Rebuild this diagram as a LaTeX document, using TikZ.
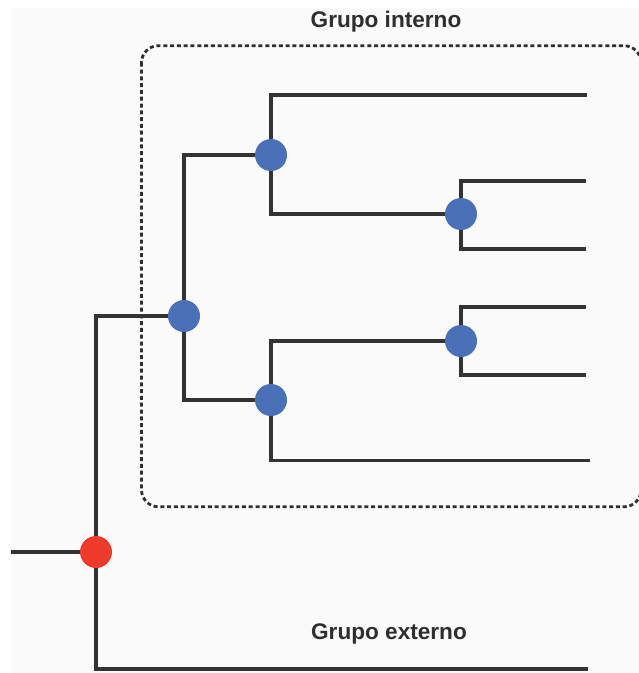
\documentclass[tikz,border=0pt]{standalone}
\usepackage{fontspec}
\setmainfont{Liberation Sans}
\begin{document}
\begin{tikzpicture}[x=1pt,y=-1pt,
  branch/.style={draw=black!80, line width=3.3pt, line join=miter},
  bluenode/.style={circle, fill=bluec, minimum size=32pt, inner sep=0pt},
  rootnode/.style={circle, fill=redc, minimum size=32pt, inner sep=0pt},
  grouplabel/.style={font=\fontsize{22.6}{26}\selectfont\bfseries, text=black!82, anchor=base, inner sep=0pt},
  groupbox/.style={draw=black!82, line width=2.8pt, dash pattern=on 4pt off 2.8pt, rounded corners=17pt}]
\definecolor{bluec}{HTML}{4A70B8}
\definecolor{redc}{HTML}{EE3A2B}
\useasboundingbox (0,0) rectangle (639,673);
\fill[white] (0,0) rectangle (639,673);
\fill[black!2] (10,8) rectangle (639,673);

% group box
\draw[groupbox] (141.5,45.7) rectangle (641,506.8);

% nodes
\node[rootnode] (root) at (96,552) {};
\node[bluenode] (A) at (184,316) {};
\node[bluenode] (B) at (271,155) {};
\node[bluenode] (C) at (271,400) {};
\node[bluenode] (D) at (461,214) {};
\node[bluenode] (E) at (461,341) {};

% leaf ends
\coordinate (in) at (11,552);
\coordinate (l1) at (587,95);
\coordinate (l2) at (586,181);
\coordinate (l3) at (586,249);
\coordinate (l4) at (586,307);
\coordinate (l5) at (586,375);
\coordinate (l6) at (590,460.5);
\coordinate (out) at (588,669);

% branches
\draw[branch] (in) -- (root);
\draw[branch] (root) |- (A);
\draw[branch] (root) |- (out);
\draw[branch] (A) |- (B);
\draw[branch] (A) |- (C);
\draw[branch] (B) |- (l1);
\draw[branch] (B) |- (D);
\draw[branch] (C) |- (E);
\draw[branch] (C) |- (l6);
\draw[branch] (D) |- (l2);
\draw[branch] (D) |- (l3);
\draw[branch] (E) |- (l4);
\draw[branch] (E) |- (l5);

% labels
\node[grouplabel] (interno) at (386,27) {Grupo interno};
\node[grouplabel] (externo) at (389,639.3) {Grupo externo};
\end{tikzpicture}
\end{document}
